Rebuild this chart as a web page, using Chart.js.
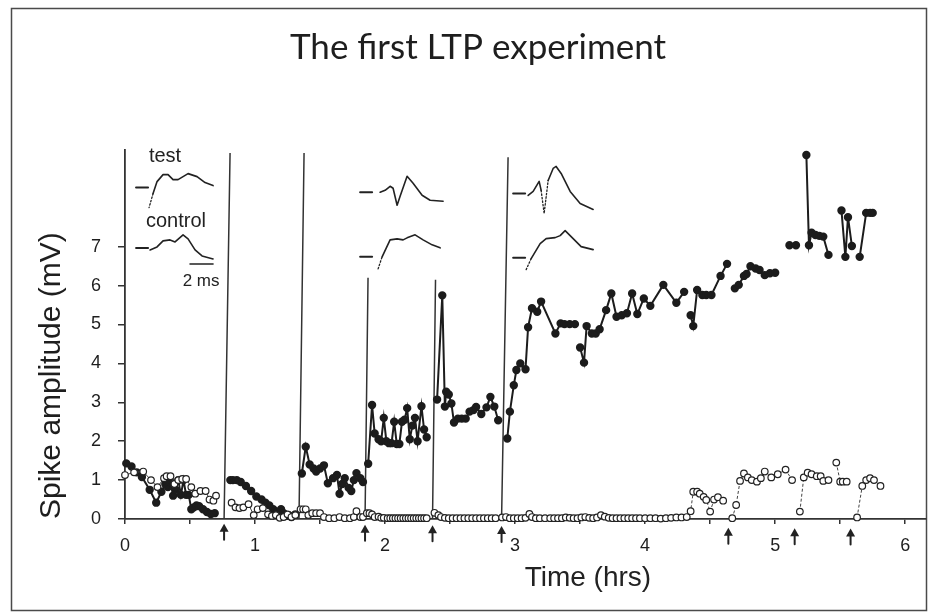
<!DOCTYPE html>
<html>
<head>
<meta charset="utf-8">
<script src="https://cdn.jsdelivr.net/npm/chart.js@4.4.0/dist/chart.umd.min.js"></script>
<style>
  html, body { margin: 0; padding: 0; background: #fff; }
  canvas { display: block; }
</style>
</head>
<body>
<canvas id="ltpChart" width="938" height="614"></canvas>
<script>
// time in hours, amplitude in mV; null = break in the record (tetanus)
const testTime = [0.01,0.05,0.09,0.13,0.19,0.24,0.28,0.31,0.33,0.35,0.37,0.39,0.41,0.43,0.45,0.47,0.49,0.51,0.53,0.55,0.57,0.60,0.63,0.66,0.69, null,
  0.81,0.83,0.86,0.89,0.93,0.97,1.01,1.05,1.08,1.11,1.14,1.17,1.20,1.22,1.24,1.26,1.28,1.31, null,
  1.36,1.39,1.42,1.45,1.47,1.50,1.53,1.56,1.60,1.63,1.65,1.67,1.69,1.72,1.74,1.76,1.78,1.81,1.83, null,
  1.87,1.90,1.92,1.95,1.97,1.99,2.01,2.03,2.05,2.07,2.09,2.11,2.13,2.15,2.17,2.19,2.21,2.23,2.25,2.28,2.30,2.32, null,
  2.40,2.44,2.46,2.47,2.49,2.51,2.53,2.56,2.59,2.62,2.65,2.68,2.70,2.74,2.78,2.81,2.84,2.87, null,
  2.94,2.96,2.99,3.01,3.04,3.08,3.10,3.13,3.17,3.20,3.31,3.35,3.38,3.42,3.46, null,
  3.50,3.53,3.55,3.59,3.62,3.65,3.70,3.74,3.78,3.82,3.86,3.90,3.94,3.99,4.04,4.14,4.24,4.30, null,
  4.35,4.37,4.40,4.44,4.47,4.51,4.58,4.63, null,
  4.69,4.72,4.76,4.78,4.81,4.85,4.88,4.92,4.96,5.00, null,
  5.11,5.16, null,
  5.24,5.26,5.28,5.31,5.34,5.37,5.41, null,
  5.51,5.54,5.56,5.59, null,
  5.65,5.70,5.73,5.75];
const testAmp = [1.43,1.35,1.20,1.08,0.75,0.42,0.70,0.90,0.82,0.95,0.60,0.75,1.00,0.62,1.00,0.62,0.62,0.25,0.30,0.35,0.33,0.25,0.18,0.13,0.15, null,
  1.00,1.00,1.00,0.95,0.85,0.72,0.58,0.50,0.42,0.35,0.25,0.18,0.25,0.15,0.08,0.10,0.05,0.12, null,
  1.17,1.86,1.40,1.30,1.22,1.30,1.38,0.92,1.05,1.13,0.65,0.90,1.05,0.80,0.72,1.00,1.18,1.05,0.95, null,
  1.42,2.93,2.20,2.05,2.00,2.60,2.00,1.95,1.95,2.50,1.93,1.93,2.50,2.55,2.85,2.05,2.40,2.60,2.00,2.90,2.30,2.10, null,
  3.07,5.75,2.89,3.27,3.20,2.97,2.48,2.58,2.58,2.58,2.76,2.80,2.88,2.70,2.87,3.14,2.89,2.54, null,
  2.07,2.76,3.44,3.83,4.00,3.85,4.93,5.42,5.33,5.59,4.77,5.03,5.01,5.01,5.01, null,
  4.41,4.02,4.96,4.77,4.77,4.88,5.37,5.80,5.20,5.24,5.29,5.80,5.27,5.67,5.48,6.02,5.56,5.84, null,
  5.24,4.96,5.89,5.76,5.76,5.76,6.25,6.56, null,
  5.93,6.02,6.25,6.30,6.50,6.44,6.40,6.27,6.32,6.33, null,
  7.04,7.04, null,
  9.36,7.04,7.36,7.30,7.28,7.26,6.79, null,
  7.93,6.74,7.76,7.02, null,
  6.74,7.87,7.87,7.87];

const ctrlTime = [0.00,0.07,0.14,0.20,0.25,0.30,0.32,0.35,0.38,0.41,0.44,0.47,0.51,0.54,0.58,0.62,0.65,0.68,0.70, null,
  0.82,0.85,0.88,0.91,0.95,0.99,1.02,1.06,1.10,1.13,1.16,1.19,1.22,1.25,1.28,1.31, null,
  1.35,1.37,1.39,1.41,1.44,1.47,1.50,1.53,1.57,1.61,1.65,1.69,1.73,1.76,1.78,1.81,1.83, null,
  1.86,1.88,1.90,1.92,1.95,1.97,1.99,2.02,2.04,2.06,2.08,2.10,2.12,2.14,2.16,2.18,2.20,2.22,2.24,2.26,2.28,2.30,2.32, null,
  2.38,2.41,2.43,2.46,2.49,2.52,2.55,2.58,2.61,2.64,2.67,2.70,2.73,2.76,2.79,2.82,2.85, null,
  2.90,2.93,2.96,2.99,3.02,3.05,3.08,3.11,3.13,3.16,3.19,3.23,3.27,3.30,3.33,3.36,3.39,3.42,3.45,3.48,
  3.51,3.54,3.57,3.60,3.63,3.66,3.69,3.72,3.75,3.78,3.81,3.84,3.87,3.90,3.93,3.96,4.00,4.04,4.08,4.12,
  4.16,4.20,4.24,4.28,4.32,4.35,4.37,4.40,4.42,4.45,4.47,4.50,4.53,4.56,4.60, null,
  4.67,4.70,4.73,4.76,4.79,4.82,4.86,4.89,4.92,4.97,5.02,5.08,5.13, null,
  5.19,5.22,5.25,5.28,5.32,5.35,5.37,5.41, null,
  5.47,5.50,5.52,5.55, null,
  5.63,5.67,5.70,5.73,5.76,5.81];
const ctrlAmp = [1.13,1.20,1.22,1.00,0.82,1.05,1.10,1.10,0.90,1.00,1.03,1.03,0.82,0.65,0.72,0.72,0.50,0.47,0.60, null,
  0.42,0.30,0.28,0.30,0.38,0.10,0.25,0.28,0.12,0.08,0.10,0.03,0.05,0.12,0.05,0.10, null,
  0.25,0.25,0.25,0.10,0.15,0.15,0.15,0.05,0.02,0.02,0.05,0.02,0.02,0.05,0.20,0.05,0.05, null,
  0.15,0.15,0.12,0.05,0.06,0.03,0.03,0.02,0.02,0.02,0.02,0.02,0.02,0.02,0.02,0.02,0.02,0.02,0.02,0.02,0.02,0.02,0.02, null,
  0.16,0.10,0.05,0.03,0.02,0.02,0.02,0.02,0.02,0.02,0.02,0.02,0.02,0.02,0.02,0.02,0.02, null,
  0.04,0.05,0.02,0.02,0.02,0.02,0.03,0.13,0.05,0.02,0.02,0.02,0.02,0.02,0.02,0.02,0.04,0.03,0.02,0.02,
  0.04,0.05,0.03,0.02,0.04,0.10,0.06,0.03,0.02,0.02,0.02,0.02,0.02,0.02,0.02,0.02,0.02,0.02,0.02,0.01,
  0.02,0.03,0.04,0.04,0.05,0.20,0.70,0.70,0.65,0.57,0.49,0.19,0.50,0.56,0.47, null,
  0.02,0.36,0.98,1.17,1.07,1.00,0.96,1.05,1.22,1.07,1.15,1.27,1.00, null,
  0.19,1.07,1.19,1.15,1.10,1.10,0.98,1.00, null,
  1.45,0.96,0.96,0.96, null,
  0.04,0.85,1.00,1.05,1.00,0.85];

// vertical lines at each tetanus: foot, top (scan is slightly tilted)
const markerFoot = [0.762, 1.338, 1.846, 2.365, 2.896];
const markerTopTime = [0.808, 1.377, 1.869, 2.388, 2.946];
const markerTopAmp = [9.41, 9.41, 6.2, 6.15, 9.3];
const arrowTimes = [0.762, 1.846, 2.365, 2.896, 4.64, 5.15, 5.58];

const xTicks = [0,0.5,1,1.5,2,2.5,3,3.5,4,4.5,5,5.5,6];
const xTickLabels = ['0','','1','','2','','3','','4','','5','','6'];
const yTicks = [0,1,2,3,4,5,6,7];

function toPoints(ts, vs) {
  return ts.map((t, i) => {
    if (t === null) return { x: (ts[i - 1] + ts[i + 1]) / 2, y: null };
    return { x: t, y: vs[i] };
  });
}

const markerPoints = [];
markerFoot.forEach((t, i) => {
  markerPoints.push({ x: t, y: 0 }, { x: markerTopTime[i], y: markerTopAmp[i] }, { x: t + 0.01, y: null });
});

// sample sweeps drawn above the graph (pixel offsets from the little "-" mark)
const sweeps = [
  { t: 0.085, v: 8.52, parts: [{ dot: true, p: [[17,6],[13,20]] },
      { p: [[17,6],[21,-6],[27,-13],[32,-13],[37,-8],[42,-8],[52,-14],[61,-11],[69,-5],[77,-2]] }] },
  { t: 0.085, v: 6.97, parts: [{ p: [[14,2],[21,-1],[27,-7],[34,-8],[39,-6],[47,-13],[52,-9],[59,2],[66,8],[77,11]] }] },
  { t: 1.808, v: 8.40, parts: [{ p: [[20,0],[25,-2],[30,-6],[33,-4],[37,13],[40,4],[47,-16],[53,-9],[62,3],[70,8],[83,9]] }] },
  { t: 1.808, v: 6.74, parts: [{ dot: true, p: [[18,12],[22,0]] },
      { p: [[22,0],[30,-17],[37,-18],[43,-17],[47,-19],[55,-22],[63,-17],[72,-12],[80,-9]] }] },
  { t: 2.985, v: 8.37, parts: [{ p: [[15,2],[20,-2],[26,-12],[28,-3]] }, { dot: true, p: [[28,-3],[31,20],[35,-13]] },
      { p: [[35,-13],[40,-25],[43,-27],[48,-20],[57,-2],[67,10],[80,16]] }] },
  { t: 2.985, v: 6.72, parts: [{ dot: true, p: [[13,12],[18,1]] },
      { p: [[18,1],[27,-14],[33,-19],[42,-20],[47,-22],[52,-27],[60,-19],[68,-11],[80,-8]] }] }
];
const sweepLabels = [
  { text: 'test', t: 0.308, v: 9.31, size: 20 },
  { text: 'control', t: 0.392, v: 7.64, size: 20 },
  { text: '2 ms', t: 0.585, v: 6.12, size: 17 }
];

const extras = {
  id: 'extras',
  beforeDraw(chart) {
    const c = chart.ctx;
    c.save();
    c.fillStyle = '#fff';
    c.fillRect(0, 0, chart.width, chart.height);
    c.strokeStyle = '#4a4a4a';
    c.lineWidth = 1.5;
    c.strokeRect(11.5, 8.5, 915, 602);
    c.restore();
  },
  afterDatasetsDraw(chart) {
    const c = chart.ctx;
    const xs = chart.scales.x, ys = chart.scales.y;
    c.save();
    c.strokeStyle = '#222';
    c.fillStyle = '#222';
    c.lineJoin = 'round';
    c.lineCap = 'round';

    // sweeps
    sweeps.forEach(s => {
      const x0 = xs.getPixelForValue(s.t), y0 = ys.getPixelForValue(s.v);
      c.setLineDash([]);
      c.lineWidth = 2;
      c.beginPath(); c.moveTo(x0, y0); c.lineTo(x0 + 12, y0); c.stroke();
      s.parts.forEach(part => {
        c.lineWidth = part.dot ? 1.3 : 1.6;
        c.setLineDash(part.dot ? [1.5, 2] : []);
        c.beginPath();
        part.p.forEach((q, i) => {
          if (i === 0) c.moveTo(x0 + q[0], y0 + q[1]);
          else c.lineTo(x0 + q[0], y0 + q[1]);
        });
        c.stroke();
      });
    });
    c.setLineDash([]);

    // 2 ms scale bar
    c.lineWidth = 1.5;
    c.beginPath();
    c.moveTo(xs.getPixelForValue(0.5), ys.getPixelForValue(6.555));
    c.lineTo(xs.getPixelForValue(0.677), ys.getPixelForValue(6.555));
    c.stroke();

    c.textAlign = 'center';
    c.textBaseline = 'middle';
    sweepLabels.forEach(l => {
      c.font = l.size + 'px "Liberation Sans", Arial, sans-serif';
      c.fillText(l.text, xs.getPixelForValue(l.t), ys.getPixelForValue(l.v));
    });

    // tetanus arrows under the axis
    arrowTimes.forEach(t => {
      const x = xs.getPixelForValue(t);
      const top = ys.bottom + 4 + t;
      c.lineWidth = 2;
      c.beginPath(); c.moveTo(x, top + 5); c.lineTo(x, top + 16); c.stroke();
      c.beginPath();
      c.moveTo(x, top); c.lineTo(x - 4.5, top + 8); c.lineTo(x + 4.5, top + 8);
      c.closePath(); c.fill();
    });

    // x axis title
    c.font = '28px "Liberation Sans", Arial, sans-serif';
    c.fillText('Time (hrs)', xs.getPixelForValue(3.56), xs.bottom - 36);
    c.restore();
  }
};

new Chart(document.getElementById('ltpChart'), {
  type: 'line',
  data: {
    datasets: [
      {
        label: 'control',
        data: toPoints(ctrlTime, ctrlAmp),
        borderColor: '#444',
        borderWidth: 1,
        pointRadius: 3.3,
        pointBackgroundColor: '#fff',
        pointBorderColor: '#222',
        pointBorderWidth: 1.2,
        spanGaps: false,
        clip: false,
        segment: {
          borderDash: ctx => ctx.p0.parsed.x > 4.3 ? [3, 2] : undefined
        }
      },
      {
        label: 'test',
        data: toPoints(testTime, testAmp),
        borderColor: '#1c1c1c',
        borderWidth: 2,
        pointRadius: 3.2,
        pointBackgroundColor: '#1c1c1c',
        pointBorderColor: '#1c1c1c',
        spanGaps: false,
        clip: false
      },
      {
        label: 'tetanus',
        data: markerPoints,
        borderColor: '#333',
        borderWidth: 1.5,
        pointRadius: 0,
        spanGaps: false,
        clip: false
      }
    ]
  },
  options: {
    responsive: false,
    animation: false,
    devicePixelRatio: 1,
    layout: { padding: { left: 30, right: 12, top: 0, bottom: 0 } },
    plugins: {
      legend: { display: false },
      tooltip: { enabled: false },
      title: {
        display: true,
        text: 'The first LTP experiment',
        color: '#1e1e1e',
        font: { family: 'Lato', size: 35, weight: 'normal', lineHeight: 1.2 },
        padding: { top: 27, bottom: 80.5 }
      }
    },
    scales: {
      x: {
        type: 'linear',
        min: 0,
        max: 6.16,
        afterBuildTicks: s => { s.ticks = xTicks.map(v => ({ value: v })); },
        afterFit: s => { s.height = 95; },
        border: { display: true, color: '#333', width: 1.8 },
        grid: { drawOnChartArea: false, drawTicks: true, tickLength: 5, color: '#333', lineWidth: 1.5 },
        ticks: {
          autoSkip: false,
          maxRotation: 0,
          padding: 11,
          color: '#1e1e1e',
          font: { family: 'Liberation Sans', size: 18 },
          callback: (value, index) => xTickLabels[index]
        }
      },
      y: {
        type: 'linear',
        min: 0,
        max: 9.5,
        afterBuildTicks: s => { s.ticks = yTicks.map(v => ({ value: v })); },
        afterFit: s => { s.width = 95; },
        border: { display: true, color: '#333', width: 1.8 },
        grid: { drawOnChartArea: false, drawTicks: true, tickLength: 7, color: '#333', lineWidth: 1.5 },
        ticks: {
          padding: 17,
          color: '#1e1e1e',
          font: { family: 'Liberation Sans', size: 18 }
        },
        title: {
          display: true,
          text: 'Spike amplitude (mV)',
          align: 'start',
          color: '#1e1e1e',
          font: { family: 'Liberation Sans', size: 30 },
          padding: { top: 4 }
        }
      }
    }
  },
  plugins: [extras]
});
</script>
</body>
</html>
